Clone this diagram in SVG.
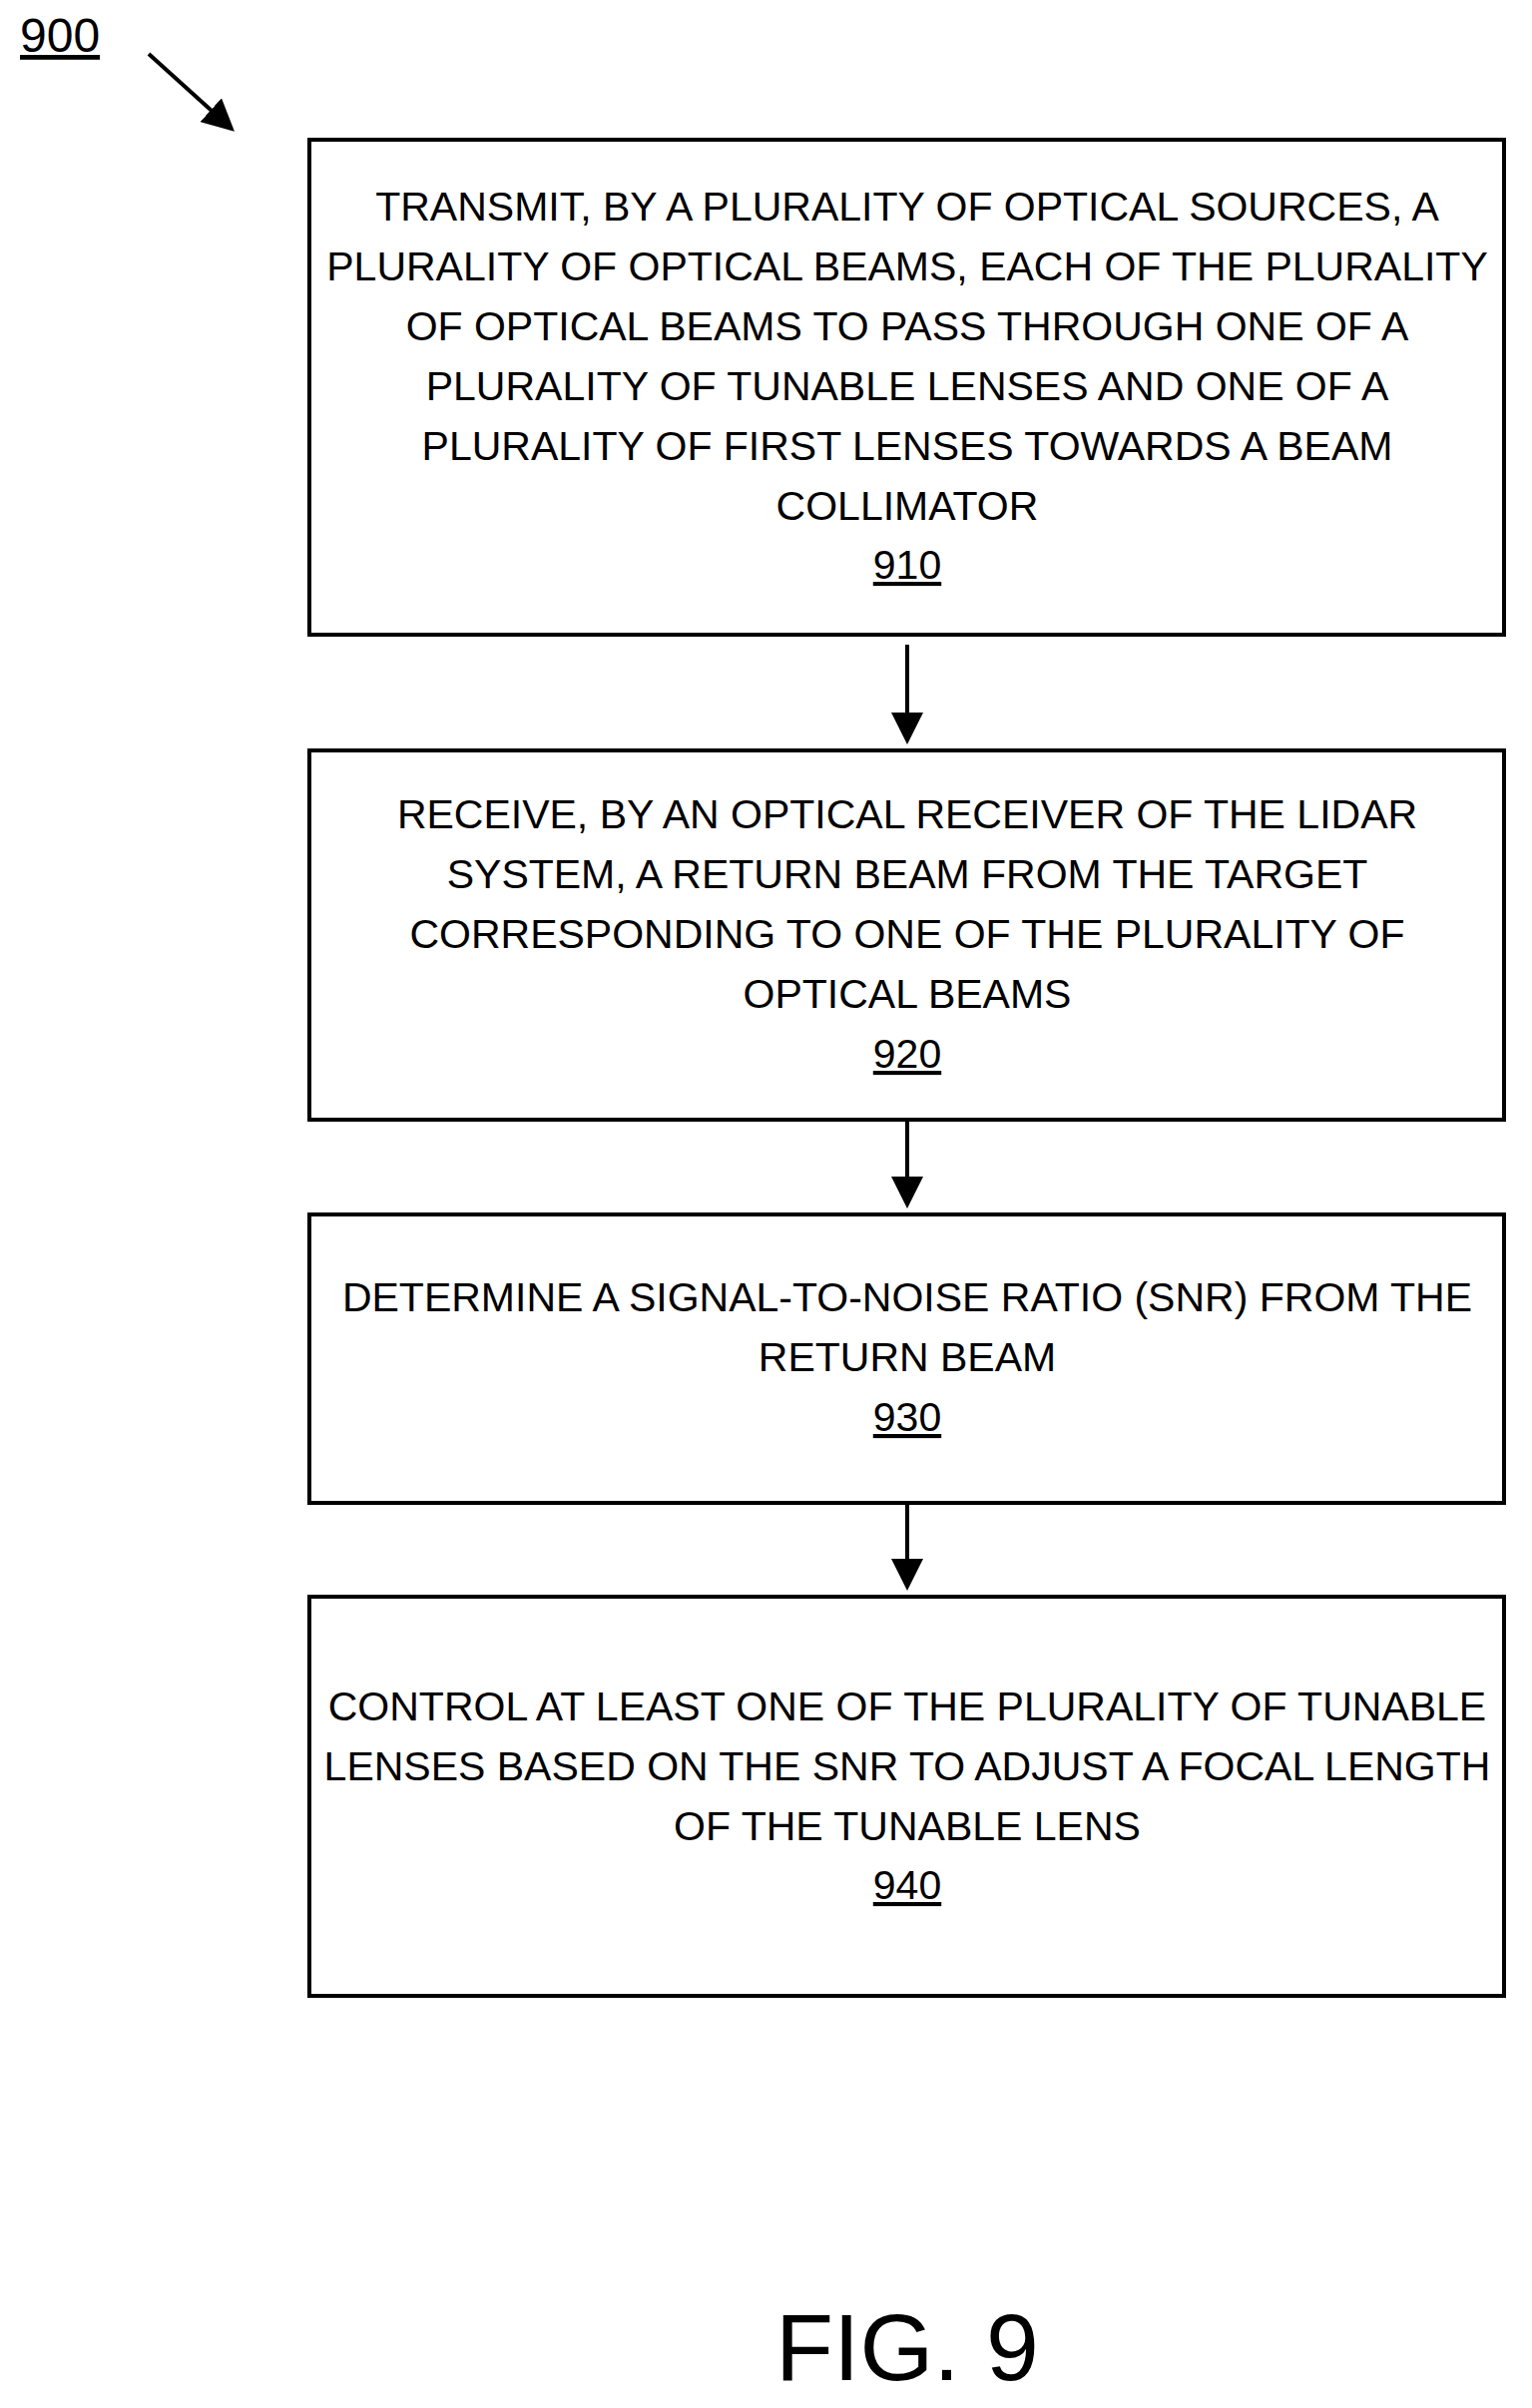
<svg xmlns="http://www.w3.org/2000/svg" width="1535" height="2413" viewBox="0 0 1535 2413">
<style>
.b{fill:#fff;stroke:#000;stroke-width:4}
.t{font-family:"Liberation Sans",Arial,sans-serif;font-size:41px;text-anchor:middle;fill:#000}
.c{stroke:#000;stroke-width:4;fill:none}
</style>
<defs><marker id="a" markerWidth="8" markerHeight="8" refX="7" refY="4" orient="auto" markerUnits="strokeWidth"><path d="M0,0L8,4L0,8z" fill="#000"/></marker></defs>
<rect width="1535" height="2413" fill="#fff"/>
<text x="20" y="52" style="font-family:'Liberation Sans',Arial,sans-serif;font-size:48px;text-decoration:underline">900</text>
<g id="connectors">
<line class="c" x1="149" y1="54" x2="232" y2="129" marker-end="url(#a)"/>
<line class="c" x1="909" y1="646" x2="909" y2="742" marker-end="url(#a)"/>
<line class="c" x1="909" y1="1124" x2="909" y2="1207" marker-end="url(#a)"/>
<line class="c" x1="909" y1="1508" x2="909" y2="1590" marker-end="url(#a)"/>
</g>
<g id="n910"><rect class="b" x="310" y="140" width="1197" height="496"/>
<text class="t" x="909" y="221">TRANSMIT, BY A PLURALITY OF OPTICAL SOURCES, A</text>
<text class="t" x="909" y="281">PLURALITY OF OPTICAL BEAMS, EACH OF THE PLURALITY</text>
<text class="t" x="909" y="341">OF OPTICAL BEAMS TO PASS THROUGH ONE OF A</text>
<text class="t" x="909" y="401">PLURALITY OF TUNABLE LENSES AND ONE OF A</text>
<text class="t" x="909" y="461">PLURALITY OF FIRST LENSES TOWARDS A BEAM</text>
<text class="t" x="909" y="521">COLLIMATOR</text>
<text class="t" x="909" y="580" text-decoration="underline">910</text></g>
<g id="n920"><rect class="b" x="310" y="752" width="1197" height="370"/>
<text class="t" x="909" y="830">RECEIVE, BY AN OPTICAL RECEIVER OF THE LIDAR</text>
<text class="t" x="909" y="890">SYSTEM, A RETURN BEAM FROM THE TARGET</text>
<text class="t" x="909" y="950">CORRESPONDING TO ONE OF THE PLURALITY OF</text>
<text class="t" x="909" y="1010">OPTICAL BEAMS</text>
<text class="t" x="909" y="1070" text-decoration="underline">920</text></g>
<g id="n930"><rect class="b" x="310" y="1217" width="1197" height="289"/>
<text class="t" x="909" y="1314">DETERMINE A SIGNAL-TO-NOISE RATIO (SNR) FROM THE</text>
<text class="t" x="909" y="1374">RETURN BEAM</text>
<text class="t" x="909" y="1434" text-decoration="underline">930</text></g>
<g id="n940"><rect class="b" x="310" y="1600" width="1197" height="400"/>
<text class="t" x="909" y="1724">CONTROL AT LEAST ONE OF THE PLURALITY OF TUNABLE</text>
<text class="t" x="909" y="1784">LENSES BASED ON THE SNR TO ADJUST A FOCAL LENGTH</text>
<text class="t" x="909" y="1844">OF THE TUNABLE LENS</text>
<text class="t" x="909" y="1903" text-decoration="underline">940</text></g>
<text x="909" y="2385" style="font-family:'Liberation Sans',Arial,sans-serif;font-size:95px;text-anchor:middle">FIG. 9</text>
</svg>
